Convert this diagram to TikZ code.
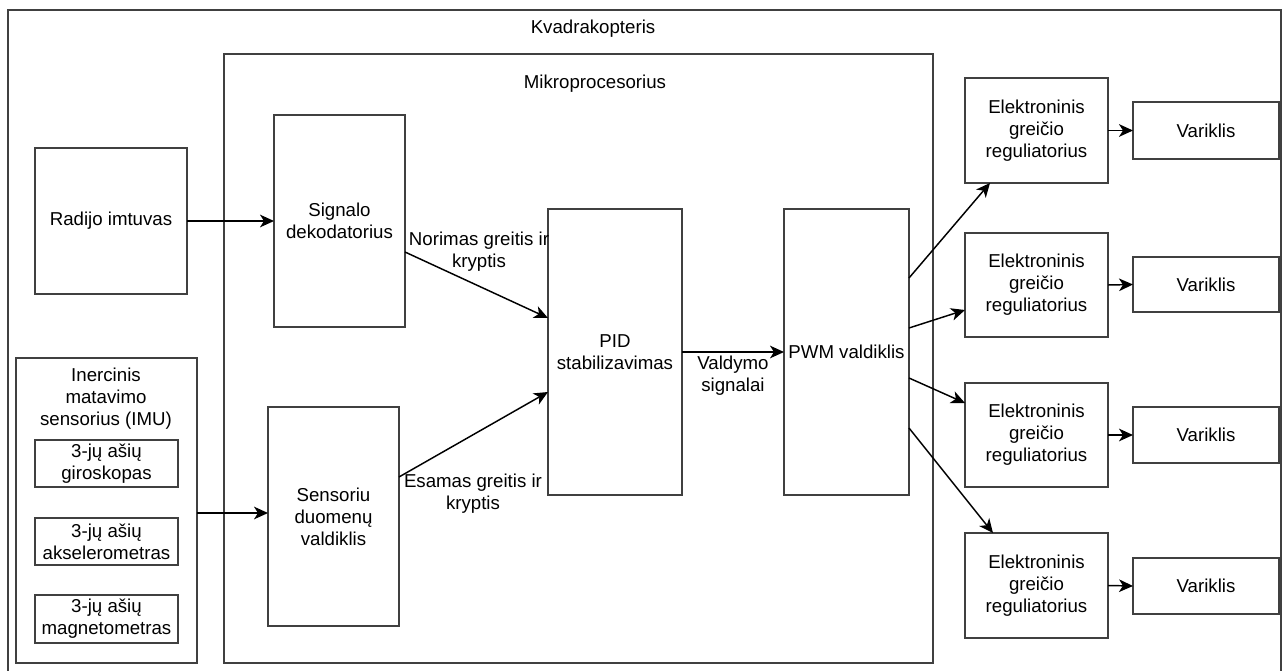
\documentclass[tikz,border=0pt]{standalone}
\usepackage{fontspec}
\setmainfont{Liberation Sans}
\usetikzlibrary{arrows.meta}
\begin{document}
\begin{tikzpicture}[x=0.75pt,y=-0.75pt,
  every node/.style={font=\fontsize{14pt}{16.5pt}\selectfont, align=center},
  blk/.style={draw=black!75, line width=0.9pt, inner sep=0pt, outer sep=0pt},
  % a rectangle given by its corners (x1,y1) and (x2,y2) in pixels
  span/.style n args={4}{minimum width={(#3-#1)*0.75pt}, minimum height={(#4-#2)*0.75pt},
    at={({(#1+#3)/2},{(#2+#4)/2})}},
  txt/.style={inner sep=0pt},
  arr/.style={draw=black, line width=1.1pt, -{Stealth[length=10.5pt,width=9.5pt,inset=3pt]}}]
\useasboundingbox (0,0) rectangle (1286,671);
\begin{scope}
\clip (0,0) rectangle (1286,671);
% outer frame and processor frame
\node[blk, span={8}{10}{1281}{690}] (quad) {};
\node[blk, span={224}{54}{933}{663}] (mcu) {};
\end{scope}
\node[txt] (quadlbl) at (593,29) {Kvadrakopteris};
\node[txt] (mculbl) at (595,84) {Mikroprocesorius};

% inputs
\node[blk, span={35}{148}{187}{294}] (radio) {Radijo imtuvas};
\node[blk, span={16}{358}{197}{663}] (imu) {};
\node[txt] (imulbl) at (106,399) {Inercinis\\matavimo\\sensorius (IMU)};
\node[blk, span={35}{440}{178}{487}] (gyro) {3-jų ašių\\giroskopas};
\node[blk, span={35}{518}{178}{565}] (accel) {3-jų ašių\\akselerometras};
\node[blk, span={35}{595}{178}{643}] (magn) {3-jų ašių\\magnetometras};

% processor blocks
\node[blk, span={274}{115}{405}{327}] (dec) {Signalo\\dekodatorius};
\node[blk, span={268}{407}{399}{626}] (sens) {Sensoriu\\duomenų\\valdiklis};
\node[blk, span={548}{209}{682}{495}] (pid) {PID\\stabilizavimas};
\node[blk, span={784}{209}{909}{495}] (pwm) {PWM valdiklis};

% speed controllers and motors
\foreach \i/\ya/\yb/\va/\vb in {1/78/183/102/159, 2/233/337/257/312, 3/383/487/407/463, 4/533/638/558/614}{
  \node[blk, span={965}{\ya}{1108}{\yb}] (esc\i) {Elektroninis\\greičio\\reguliatorius};
  \node[blk, span={1133}{\va}{1279}{\vb}] (mot\i) {Variklis};
  \draw[arr] (esc\i.east) -- (mot\i.west);
}

% connectors
\draw[arr] (radio.east) -- (dec.west |- radio.east);
\draw[arr] (imu.east |- 0,513) -- (sens.west |- 0,513);
\draw[arr] (dec.east |- 0,252) -- (pid.west |- 0,318);
\draw[arr] (sens.east |- 0,477) -- (pid.west |- 0,392);
\draw[arr] (pid.east |- 0,352) -- (pwm.west |- 0,352);
\draw[arr] (pwm.east |- 0,278) -- (990,183);
\draw[arr] (pwm.east |- 0,328) -- (esc2.west |- 0,310);
\draw[arr] (pwm.east |- 0,378) -- (esc3.west |- 0,403);
\draw[arr] (pwm.east |- 0,428) -- (993,533);

% connector labels
\node[txt] (lblwant) at (479,252) {Norimas greitis ir\\kryptis};
\node[txt] (lblcur) at (473,494) {Esamas greitis ir\\kryptis};
\node[txt] (lblctl) at (733,376) {Valdymo\\signalai};
\end{tikzpicture}
\end{document}
